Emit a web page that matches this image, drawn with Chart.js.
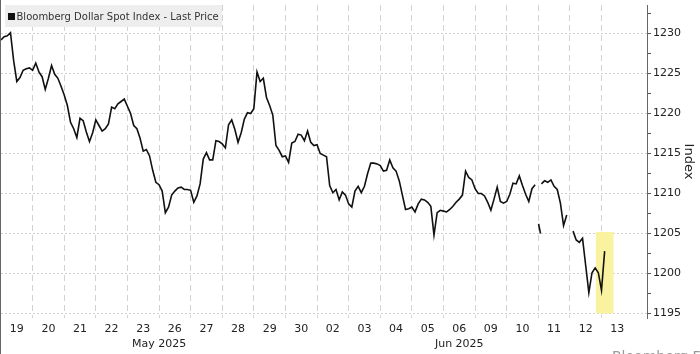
<!DOCTYPE html>
<html>
<head>
<meta charset="utf-8">
<script src="https://cdn.jsdelivr.net/npm/chart.js@4"></script>
<style>
  html, body { margin: 0; padding: 0; background: #fff; overflow: hidden; }
  body { width: 700px; height: 354px; position: relative; }
  #wrap { position: absolute; left: 0; top: 0; width: 699px; height: 354px; border-left: 1px solid #666; }
  canvas { display: block; }
  #legend { position: absolute; left: 5px; top: 5px; width: 217px; height: 22px; background: #eeeeee;
            font-family: "DejaVu Sans", sans-serif; font-size: 10px; color: #333; line-height: 22px; white-space: nowrap; }
  #legend .sq { position: absolute; left: 2.5px; top: 7.5px; width: 7px; height: 7px; background: #111; }
  #legend .tx { position: absolute; left: 11.5px; top: 0.5px; }
  #mark { position: absolute; left: 612px; top: 349px; font-family: "DejaVu Sans", sans-serif; font-size: 14px;
          color: #999; line-height: 14px; white-space: nowrap; }
</style>
</head>
<body>
<div id="wrap"><canvas id="c" width="699" height="354"></canvas></div>
<div id="legend"><span class="sq"></span><span class="tx">Bloomberg Dollar Spot Index - Last Price</span></div>
<div id="mark">Bloomberg Finance L.P.</div>
<script>
// ---- data ----
const dayLabels = ['19','20','21','22','23','26','27','28','29','30','02','03','04','05','06','09','10','11','12','13'];
const monthLabels = ['May 2025', 'Jun 2025'];
const monthAt = [5, 14.5];            // position on the trading-day axis
const samplesPerDay = 10;
const prices = [
  1229.2,1229.6,1229.7,1230.1,1226.6,1224.0,1224.5,1225.4,1225.6,1225.7,
  1225.4,1226.3,1225.2,1224.6,1223.0,1224.4,1226.0,1224.9,1224.4,1223.4,
  1222.3,1221.0,1218.9,1218.1,1217.0,1219.4,1219.1,1217.7,1216.5,1217.6,
  1219.2,1218.5,1217.8,1218.1,1218.7,1220.8,1220.6,1221.2,1221.5,1221.8,
  1220.9,1220.0,1218.5,1218.1,1216.9,1215.3,1215.5,1214.7,1212.9,1211.4,
  1211.1,1210.3,1207.6,1208.3,1209.8,1210.3,1210.7,1210.8,1210.5,1210.5,
  1210.4,1208.9,1209.7,1211.2,1214.3,1215.1,1214.2,1214.2,1216.6,1216.5,
  1216.2,1215.7,1218.6,1219.2,1218.0,1216.4,1217.6,1219.3,1220.1,1220.0,
  1220.6,1225.2,1224.0,1224.4,1222.0,1221.0,1219.8,1216.0,1215.4,1214.6,
  1214.7,1213.9,1216.3,1216.5,1217.4,1217.3,1216.6,1217.8,1216.4,1216.0,
  1216.1,1215.0,1214.8,1214.6,1211.0,1210.1,1210.5,1209.2,1210.2,1209.8,
  1208.7,1208.3,1210.3,1210.9,1210.1,1210.9,1212.5,1213.8,1213.8,1213.7,
  1213.5,1212.8,1212.9,1214.2,1213.2,1212.8,1211.6,1209.8,1208.0,1208.1,
  1208.3,1207.7,1208.7,1209.3,1209.2,1208.9,1208.4,1204.8,1207.6,1207.9,
  1207.8,1207.7,1208.0,1208.4,1208.9,1209.3,1209.8,1212.8,1212.0,1211.7,
  1210.6,1210.0,1210.0,1209.7,1208.9,1207.9,1209.3,1210.8,1209.0,1208.8,
  1209.0,1209.9,1211.3,1211.2,1212.2,1211.0,1209.9,1209.0,1210.6,1211.1,
  null,1211.2,1211.6,1211.4,1211.7,1210.9,1210.5,1208.8,1206.0,1207.3,
  null,1205.3,1204.2,1203.9,1204.4,1201.0,1197.6,1200.1,1200.7,1200.1,
  1197.9,1202.8,null,null,null,null,null,null,null,null
];
const fragTimes = [17.01, 17.07];
const fragValues = [1206.2, 1205.0];
const highlight = [18.82, 19.38, 1195.0, 1205.2];   // from, to (days), low, high (index)
const yMin = 1194.44, yMax = 1233.56, xMax = 20.44;

// ---- chart ----
const mainPts = prices.map((v, i) => ({ x: i / samplesPerDay, y: v }));
const fragPts = fragTimes.map((t, i) => ({ x: t, y: fragValues[i] }));

const xTickVals = [];
for (let i = 0; i <= 40; i++) xTickVals.push(i / 2);

const isMajor = v => { const r = ((v % 5) + 5) % 5; return r < 0.01 || r > 4.99; };

const highlightPlugin = {
  id: 'highlight',
  beforeDatasetsDraw(chart) {
    const { ctx, scales: { x, y } } = chart;
    const x1 = x.getPixelForValue(highlight[0]), x2 = x.getPixelForValue(highlight[1]);
    const y1 = y.getPixelForValue(highlight[3]), y2 = y.getPixelForValue(highlight[2]);
    ctx.save();
    ctx.fillStyle = '#f9f2a0';
    ctx.fillRect(x1, y1, x2 - x1, y2 - y1);
    ctx.restore();
  }
};

new Chart(document.getElementById('c'), {
  type: 'line',
  data: {
    datasets: [
      { data: mainPts, borderColor: '#111', borderWidth: 1.6, pointRadius: 0, tension: 0, spanGaps: false },
      { data: fragPts, borderColor: '#111', borderWidth: 1.6, pointRadius: 0, tension: 0 }
    ]
  },
  plugins: [highlightPlugin],
  options: {
    responsive: false,
    animation: false,
    events: [],
    layout: { padding: { top: 5, left: 0, right: 0, bottom: 0 } },
    plugins: { legend: { display: false }, tooltip: { enabled: false } },
    scales: {
      x: {
        type: 'linear', min: 0, max: xMax,
        afterBuildTicks: s => { s.ticks = xTickVals.map(v => ({ value: v })); },
        afterFit: s => { s.height = 36; s.paddingLeft = 0; s.paddingRight = 0; },
        grid: {
          drawTicks: false,
          color: c => { const v = c.tick ? c.tick.value : 0; return (Number.isInteger(v) && v >= 1 && v <= 19) ? '#d2d2d2' : 'rgba(0,0,0,0)'; },
          lineWidth: 1
        },
        border: { display: false, dash: [6, 4] },
        ticks: {
          autoSkip: false, maxRotation: 0, minRotation: 0, padding: 3.5,
          color: '#222', font: { family: 'DejaVu Sans', size: 11, lineHeight: 1.364 },
          callback: (v) => {
            const half = Math.abs(v - Math.floor(v) - 0.5) < 0.01;
            const day = half ? dayLabels[Math.floor(v)] || '' : '';
            const mi = monthAt.findIndex(m => Math.abs(m - v) < 0.01);
            if (mi >= 0) return [day, monthLabels[mi]];
            return day;
          }
        }
      },
      y: {
        type: 'linear', position: 'right', min: yMin, max: yMax,
        afterFit: s => { s.width = 53; s.paddingTop = 0; s.paddingBottom = 0; },
        grid: {
          color: c => (c.tick && isMajor(c.tick.value)) ? '#d0d0d0' : 'rgba(0,0,0,0)',
          tickColor: '#555', tickLength: 4, lineWidth: 1, tickWidth: 1
        },
        border: { display: true, color: '#666', width: 1, dash: [2, 2] },
        ticks: {
          stepSize: 2.5, includeBounds: false, padding: 2,
          color: '#222', font: { family: 'DejaVu Sans', size: 11 },
          callback: v => isMajor(v) ? String(Math.round(v)) : ''
        },
        title: { display: true, text: 'Index', color: '#222', font: { family: 'DejaVu Sans', size: 13 }, padding: { top: 4, bottom: 4 } }
      }
    }
  }
});
</script>
</body>
</html>
